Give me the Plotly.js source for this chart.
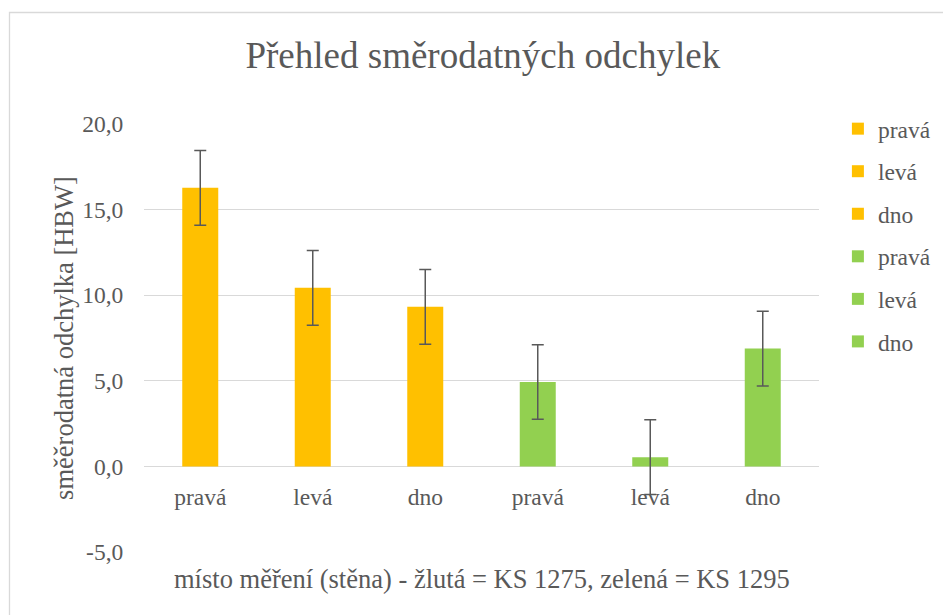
<!DOCTYPE html>
<html>
<head>
<meta charset="utf-8">
<script src="https://cdn.plot.ly/plotly-3.0.1.min.js"></script>
<style>html,body{margin:0;padding:0;background:#fff;}#chart{width:943px;height:615px;}</style>
</head>
<body>
<div id="chart"></div>
<script>
const categories = ["pravá", "levá", "dno", "pravá", "levá", "dno"];
const values = [16.27, 10.43, 9.32, 4.93, 0.54, 6.88];
const errors = [2.18, 2.18, 2.18, 2.18, 2.18, 2.18];
const colors = ["#FFC000", "#FFC000", "#FFC000", "#92D050", "#92D050", "#92D050"];
const yTickVals = [-5, 0, 5, 10, 15, 20];
const yTickText = ["-5,0", "0,0", "5,0", "10,0", "15,0", "20,0"];

const font = "Liberation Serif";
const txt = "#595959";

const traces = categories.map((c, i) => ({
  type: "bar",
  x: [i],
  y: [values[i]],
  name: c,
  legendgroup: "g" + i,
  width: 0.32,
  marker: {color: colors[i]},
  error_y: {type: "data", array: [errors[i]], visible: true, color: "#595959", thickness: 1.5, width: 6},
  hoverinfo: "y"
}));

const layout = {
  font: {family: font, color: txt},
  width: 943, height: 615,
  margin: {l: 144, r: 124, t: 124, b: 63, autoexpand: false},
  paper_bgcolor: "#fff", plot_bgcolor: "#fff",
  barmode: "overlay",
  showlegend: true,
  title: {text: "Přehled směrodatných odchylek", font: {family: font, size: 37, color: txt}, x: 0.512, xanchor: "center", y: 0.91, yanchor: "middle"},
  xaxis: {
    range: [-0.5, 5.5],
    tickvals: categories.map((c, i) => i),
    ticktext: categories,
    tickfont: {family: font, size: 23.5, color: txt},
    anchor: "free", position: 0.2,
    showgrid: false, zeroline: false, showline: false,
    ticks: "outside", ticklen: 9, tickcolor: "rgba(0,0,0,0)"
  },
  yaxis: {
    range: [-5, 20],
    tickvals: yTickVals, ticktext: yTickText,
    tickfont: {family: font, size: 23.5, color: txt},
    showgrid: true, gridcolor: "#d9d9d9", gridwidth: 1.3,
    zeroline: true, zerolinecolor: "#d9d9d9", zerolinewidth: 1.3,
    showline: false,
    ticks: "outside", ticklen: 15, tickcolor: "rgba(0,0,0,0)",
    title: {text: "směěrodatná odchylka [HBW]", font: {family: font, size: 26.5, color: txt}, standoff: 0}
  },
  legend: {
    x: 1.028, y: 1.04, xanchor: "left", yanchor: "top",
    font: {family: font, size: 23.5, color: txt},
    tracegroupgap: 9, itemwidth: 30,
    traceorder: "grouped"
  },
  annotations: [{
    xref: "paper", yref: "paper", x: 0.5, y: -0.063, xanchor: "center", yanchor: "middle",
    text: "místo měření (stěna) - žlutá = KS 1275, zelená = KS 1295",
    showarrow: false, font: {family: font, size: 26.5, color: txt}
  }],
  shapes: [{
    type: "rect", xref: "paper", yref: "paper",
    x0: (9.5 - 144) / 675, x1: (960 - 144) / 675,
    y0: (552 - 630) / 428, y1: (552 - 12.5) / 428,
    line: {color: "#d9d9d9", width: 1.3}, fillcolor: "rgba(0,0,0,0)", layer: "below"
  }]
};

Plotly.newPlot("chart", traces, layout, {displayModeBar: false});
</script>
</body>
</html>
